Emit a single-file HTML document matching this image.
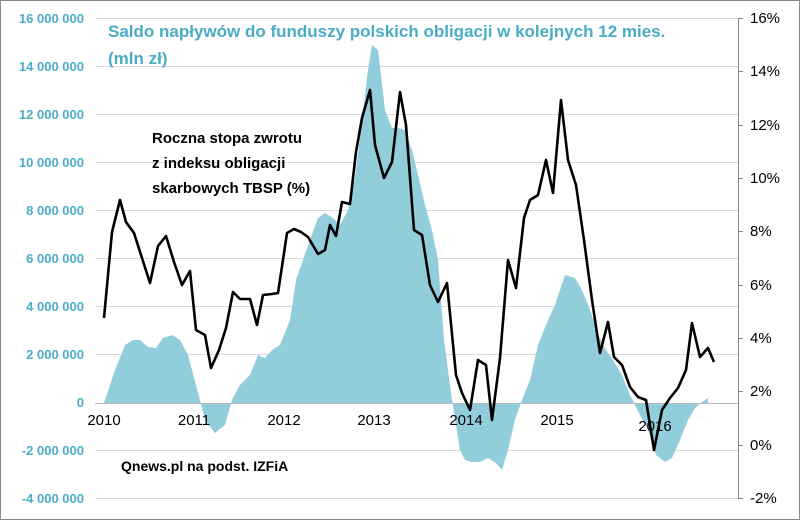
<!DOCTYPE html>
<html><head><meta charset="utf-8"><style>
html,body{margin:0;padding:0;background:#fff}
svg{display:block;font-family:"Liberation Sans",sans-serif}
</style></head><body>
<svg width="800" height="520" viewBox="0 0 800 520">
<rect x="0.5" y="0.5" width="799" height="519" fill="#fff" stroke="#888"/>
<g stroke="#d9d9d9" stroke-width="1">
<line x1="95" x2="738" y1="18.5" y2="18.5"/><line x1="95" x2="738" y1="66.5" y2="66.5"/>
<line x1="95" x2="738" y1="114.5" y2="114.5"/><line x1="95" x2="738" y1="162.5" y2="162.5"/>
<line x1="95" x2="738" y1="210.5" y2="210.5"/><line x1="95" x2="738" y1="258.5" y2="258.5"/>
<line x1="95" x2="738" y1="306.5" y2="306.5"/><line x1="95" x2="738" y1="354.5" y2="354.5"/>
<line x1="95" x2="738" y1="450.5" y2="450.5"/><line x1="95" x2="738" y1="498.5" y2="498.5"/>
</g>
<polygon fill="#92cddc" points="104,403 115,370 125,345 133,340 140,340 148,347 156,348 163,338 172,335 180,340 188,355 196,385 205,420 215,433 225,425 232,400 240,385 250,375 258,355 265,358 272,350 280,345 290,320 296,280 303,260 310,240 318,218 325,213 333,218 340,225 348,210 355,178 362,120 368,70 372,45 378,50 385,110 392,128 398,128 405,130 412,150 418,175 425,205 432,230 438,260 444,340 452,400 460,450 465,460 472,462 480,462 488,458 496,463 502,470 508,450 515,420 522,400 530,380 538,345 546,325 555,305 565,275 575,278 582,290 590,310 598,335 606,350 613,360 622,375 630,395 640,415 648,430 656,455 665,462 672,458 680,440 688,420 695,408 702,402 708,398 708,403"/>
<line x1="95" x2="738" y1="403.5" y2="403.5" stroke="#bbb"/>
<line x1="738.5" x2="738.5" y1="18" y2="498" stroke="#888"/>
<g stroke="#888">
<line x1="738" x2="743" y1="18.5" y2="18.5"/><line x1="738" x2="743" y1="71.5" y2="71.5"/>
<line x1="738" x2="743" y1="125.5" y2="125.5"/><line x1="738" x2="743" y1="178.5" y2="178.5"/>
<line x1="738" x2="743" y1="231.5" y2="231.5"/><line x1="738" x2="743" y1="285.5" y2="285.5"/>
<line x1="738" x2="743" y1="338.5" y2="338.5"/><line x1="738" x2="743" y1="391.5" y2="391.5"/>
<line x1="738" x2="743" y1="445.5" y2="445.5"/><line x1="738" x2="743" y1="498.5" y2="498.5"/>
</g>
<polyline fill="none" stroke="#000" stroke-width="2.6" stroke-linejoin="round" points="104,318 112,232 120,200 126,222 134,233 142,258 150,283 158,246 166,236 174,262 182,285 190,271 196,330 205,335 211,368 219,350 226,328 233,292 240,299 250,299 257,325 263,295 272,294 278,293 287,233 294,229 301,232 308,237 318,254 325,250 330,225 336,236 342,202 350,204 356,152 362,118 370,90 375,145 384,178 392,162 400,92 406,125 414,230 422,235 430,285 438,302 447,283 456,375 462,393 470,410 478,360 486,365 492,420 500,358 508,260 516,288 524,218 530,200 538,195 546,160 553,193 561,100 568,160 576,185 584,240 592,300 600,353 608,322 614,357 622,365 630,387 638,397 646,400 654,450 662,410 670,398 678,388 686,370 692,323 700,357 708,348 714,362"/>
<g fill="#4bacc6" font-size="13" font-weight="bold" text-anchor="end">
<text x="84" y="23">16 000 000</text><text x="84" y="71">14 000 000</text>
<text x="84" y="119">12 000 000</text><text x="84" y="167">10 000 000</text>
<text x="84" y="215">8 000 000</text><text x="84" y="263">6 000 000</text>
<text x="84" y="311">4 000 000</text><text x="84" y="359">2 000 000</text>
<text x="84" y="407">0</text><text x="84" y="455">-2 000 000</text>
<text x="84" y="503">-4 000 000</text>
</g>
<g fill="#000" font-size="15" text-anchor="start">
<text x="750" y="23">16%</text><text x="750" y="76">14%</text><text x="750" y="130">12%</text>
<text x="750" y="183">10%</text><text x="750" y="236">8%</text><text x="750" y="290">6%</text>
<text x="750" y="343">4%</text><text x="750" y="396">2%</text><text x="750" y="450">0%</text>
<text x="750" y="503">-2%</text>
</g>
<g fill="#000" font-size="15" text-anchor="middle">
<text x="104" y="425">2010</text><text x="194" y="425">2011</text><text x="284" y="425">2012</text>
<text x="374" y="425">2013</text><text x="466" y="425">2014</text><text x="557" y="425">2015</text>
<text x="655" y="431">2016</text>
</g>
<g fill="#4bacc6" font-size="17" font-weight="bold">
<text x="108" y="37">Saldo napływów do funduszy polskich obligacji w kolejnych 12 mies.</text>
<text x="108" y="64">(mln zł)</text>
</g>
<g fill="#000" font-size="15" font-weight="bold">
<text x="152" y="143">Roczna stopa zwrotu</text>
<text x="152" y="168">z indeksu obligacji</text>
<text x="152" y="193">skarbowych TBSP (%)</text>
<text x="121" y="471" font-size="14">Qnews.pl na podst. IZFiA</text>
</g>
</svg>
</body></html>
